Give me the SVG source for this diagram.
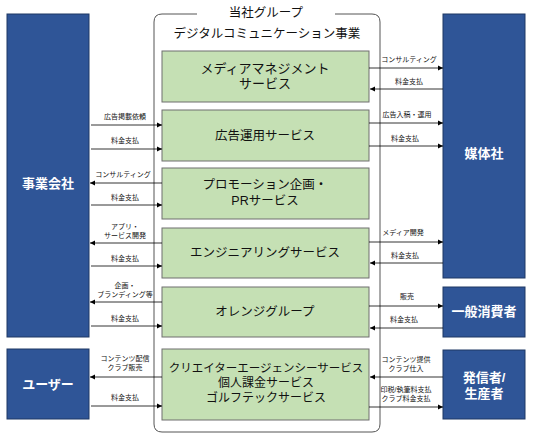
<svg xmlns="http://www.w3.org/2000/svg" width="533" height="437" viewBox="0 0 533 437">
<defs>
<marker id="ah" markerWidth="6" markerHeight="6" refX="5" refY="3" orient="auto" markerUnits="userSpaceOnUse">
<path d="M0,0.5 L5,3 L0,5.5 Z" fill="#000"/>
</marker>
<style>
text{font-family:"Liberation Sans","Noto Sans CJK JP","Noto Sans CJK SC",sans-serif;}
.blue{fill:#2F5597;stroke:#1F3864;stroke-width:1;}
.green{fill:#C5E0B4;stroke:#6F6F6F;stroke-width:1;}
.bt{fill:#fff;font-size:13px;font-weight:bold;text-anchor:middle;}
.gt{fill:#111;font-size:12.5px;text-anchor:middle;}
.lb{fill:#111;font-size:7px;text-anchor:middle;}
.ar{stroke:#000;stroke-width:0.8;fill:none;marker-end:url(#ah);}
.cont{fill:none;stroke:#555;stroke-width:1;}
</style>
</defs>
<rect width="533" height="437" fill="#fff"/>
<g id="group-container">
<path class="cont" d="M197,14 H162 Q154,14 154,22 V424 Q154,432 162,432 H372 Q380,432 380,424 V22 Q380,14 372,14 H335"/>
<text x="266" y="17" style="font-size:12.5px;fill:#111;text-anchor:middle">当社グループ</text>
<text x="267" y="38" style="font-size:12.5px;fill:#111;text-anchor:middle">デジタルコミュニケーション事業</text>
</g>
<g id="jigyo">
<rect class="blue" x="7" y="14" width="82" height="323"/>
<text class="bt" x="48" y="188">事業会社</text>
</g>
<g id="user">
<rect class="blue" x="7" y="349" width="82" height="70"/>
<text class="bt" x="48" y="389">ユーザー</text>
</g>
<g id="baitai">
<rect class="blue" x="443" y="14" width="82" height="264"/>
<text class="bt" x="484" y="158">媒体社</text>
</g>
<g id="shohisha">
<rect class="blue" x="443" y="287" width="82" height="50"/>
<text class="bt" x="484" y="316">一般消費者</text>
</g>
<g id="hasshin">
<rect class="blue" x="443" y="350" width="82" height="69"/>
<text class="bt" x="484" y="382">発信者/</text>
<text class="bt" x="484" y="398">生産者</text>
</g>
<g id="s1">
<rect class="green" x="162" y="51" width="207" height="51"/>
<text class="gt" x="265" y="73" style="font-size:13px">メディアマネジメント</text>
<text class="gt" x="265" y="88" style="font-size:13px">サービス</text>
</g>
<g id="s2">
<rect class="green" x="162" y="110" width="207" height="51"/>
<text class="gt" x="265" y="140">広告運用サービス</text>
</g>
<g id="s3">
<rect class="green" x="162" y="168" width="207" height="51"/>
<text class="gt" x="265" y="189">プロモーション企画・</text>
<text class="gt" x="265" y="205">PRサービス</text>
</g>
<g id="s4">
<rect class="green" x="162" y="228" width="207" height="50"/>
<text class="gt" x="265" y="257">エンジニアリングサービス</text>
</g>
<g id="s5">
<rect class="green" x="162" y="287" width="207" height="50"/>
<text class="gt" x="265" y="316">オレンジグループ</text>
</g>
<g id="s6">
<rect class="green" x="162" y="349" width="207" height="71"/>
<text class="gt" x="266" y="372" style="font-size:11.5px">クリエイターエージェンシーサービス</text>
<text class="gt" x="266" y="387" style="font-size:12px">個人課金サービス</text>
<text class="gt" x="266" y="402" style="font-size:12px">ゴルフテックサービス</text>
</g>
<g id="connectors">
<line class="ar" x1="91" y1="125" x2="162" y2="125"/>
<line class="ar" x1="91" y1="149" x2="162" y2="149"/>
<line class="ar" x1="162" y1="183" x2="90" y2="183"/>
<line class="ar" x1="91" y1="205" x2="162" y2="205"/>
<line class="ar" x1="162" y1="243" x2="90" y2="243"/>
<line class="ar" x1="91" y1="266" x2="162" y2="266"/>
<line class="ar" x1="162" y1="302" x2="90" y2="302"/>
<line class="ar" x1="91" y1="326" x2="162" y2="326"/>
<line class="ar" x1="162" y1="377" x2="90" y2="377"/>
<line class="ar" x1="91" y1="406" x2="162" y2="406"/>
<line class="ar" x1="369" y1="68" x2="443" y2="68"/>
<line class="ar" x1="443" y1="89" x2="370" y2="89"/>
<line class="ar" x1="369" y1="123" x2="443" y2="123"/>
<line class="ar" x1="369" y1="146" x2="443" y2="146"/>
<line class="ar" x1="369" y1="242" x2="443" y2="242"/>
<line class="ar" x1="443" y1="263" x2="370" y2="263"/>
<line class="ar" x1="369" y1="306" x2="443" y2="306"/>
<line class="ar" x1="443" y1="328" x2="370" y2="328"/>
<line class="ar" x1="443" y1="377" x2="370" y2="377"/>
<line class="ar" x1="369" y1="407" x2="443" y2="407"/>
<text class="lb" x="125" y="119">広告掲載依頼</text>
<text class="lb" x="125" y="143">料金支払</text>
<text class="lb" x="123" y="177">コンサルティング</text>
<text class="lb" x="125" y="200">料金支払</text>
<text class="lb" x="125" y="229">アプリ・</text>
<text class="lb" x="125" y="238">サービス開発</text>
<text class="lb" x="125" y="261">料金支払</text>
<text class="lb" x="125" y="288">企画・</text>
<text class="lb" x="125" y="297">ブランディング等</text>
<text class="lb" x="125" y="321">料金支払</text>
<text class="lb" x="125" y="361">コンテンツ配信</text>
<text class="lb" x="125" y="370">クラブ販売</text>
<text class="lb" x="125" y="400">料金支払</text>
<text class="lb" x="409" y="62">コンサルティング</text>
<text class="lb" x="409" y="84">料金支払</text>
<text class="lb" x="407" y="117">広告入稿・運用</text>
<text class="lb" x="405" y="141">料金支払</text>
<text class="lb" x="403" y="235">メディア開発</text>
<text class="lb" x="405" y="258">料金支払</text>
<text class="lb" x="407" y="299">販売</text>
<text class="lb" x="404" y="322">料金支払</text>
<text class="lb" x="406" y="362">コンテンツ提供</text>
<text class="lb" x="406" y="371">クラブ仕入</text>
<text class="lb" x="406" y="392">印税/執筆料支払</text>
<text class="lb" x="406" y="401">クラブ料金支払</text>
</g>
</svg>
